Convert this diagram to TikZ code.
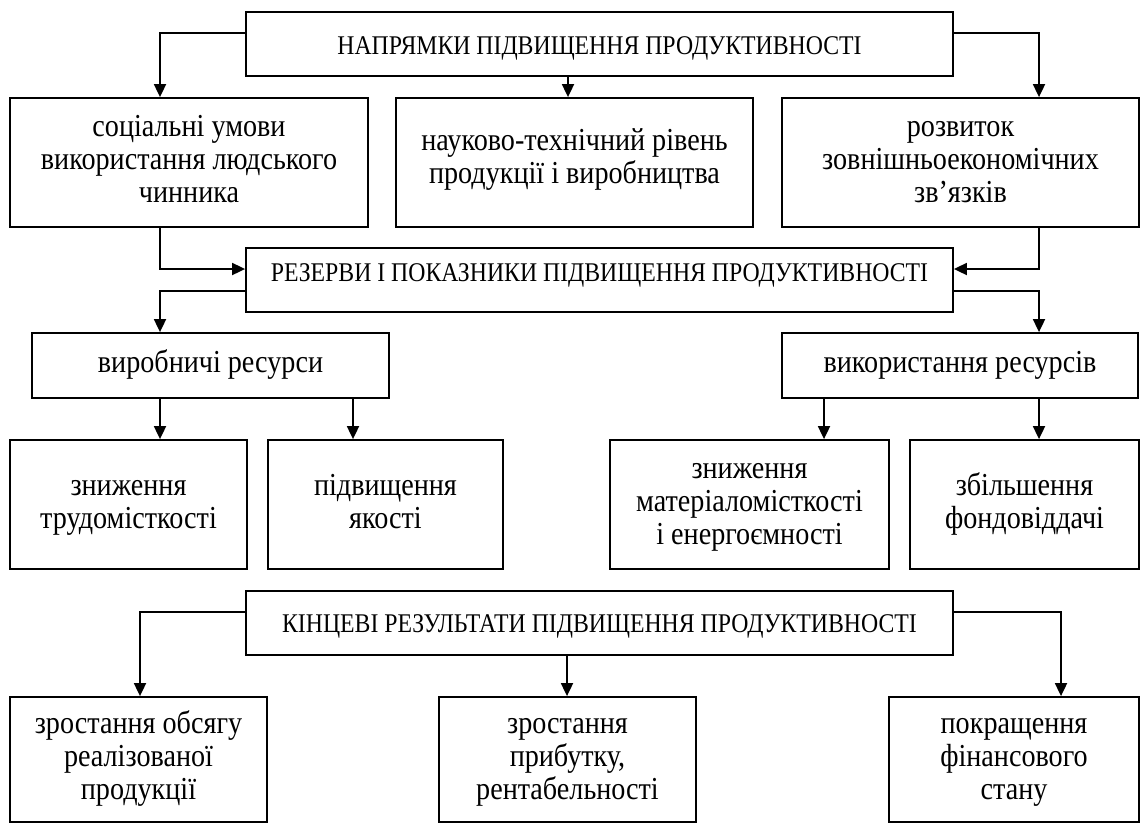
\documentclass[tikz,border=0pt]{standalone}
\usepackage{fontspec}
\setmainfont{Liberation Serif}[FakeStretch=0.88]
\usetikzlibrary{arrows.meta}
\begin{document}
\begin{tikzpicture}[x=1pt,y=-1pt,
  box/.style={draw, line width=1.8pt, inner sep=0pt, align=center,
    font=\fontsize{32}{33}\selectfont, text height=14pt, text depth=0pt},
  two/.style={text height=47pt},
  three/.style={text height=80pt},
  capbox/.style={draw, line width=1.8pt, inner sep=0pt,
    font=\fontsize{27}{30}\selectfont, text height=18pt, text depth=0pt},
  arr/.style={line width=1.8pt, line join=miter, -{Triangle[length=13pt,width=12pt]}}]
\useasboundingbox (0,0) rectangle (1142,823);
% named x positions of connectors
\coordinate (L) at (160,0);
\coordinate (R) at (1039,0);
\coordinate (M) at (568,0);
\coordinate (ML) at (353,0);
\coordinate (MR) at (824,0);
\coordinate (FL) at (140,0);
\coordinate (FM) at (567,0);
\coordinate (FR) at (1061,0);
% boxes
\node[capbox, minimum width=707pt, minimum height=64pt, text height=20pt] (top) at (599.5,44) {НАПРЯМКИ ПІДВИЩЕННЯ ПРОДУКТИВНОСТІ};
\node[box, three, minimum width=358pt, minimum height=129pt] (b1) at (189,162.5) {соціальні умови\\використання людського\\чинника};
\node[box, two, text depth=6pt, minimum width=357pt, minimum height=129pt] (b2) at (574.5,162.5) {науково-технічний рівень\\продукції і виробництва};
\node[box, three, minimum width=357pt, minimum height=129pt] (b3) at (960.5,162.5) {розвиток\\зовнішньоекономічних\\зв’язків};
\node[capbox, minimum width=707pt, minimum height=64pt, text depth=15pt] (resv) at (599.5,280) {РЕЗЕРВИ І ПОКАЗНИКИ ПІДВИЩЕННЯ ПРОДУКТИВНОСТІ};
\node[box, minimum width=357pt, minimum height=65pt] (vr) at (210.5,365.5) {виробничі ресурси};
\node[box, minimum width=356pt, minimum height=65pt] (vk) at (960,365.5) {використання ресурсів};
\node[box, two, minimum width=237pt, minimum height=129pt] (r1) at (128.5,504.5) {зниження\\трудомісткості};
\node[box, two, minimum width=235pt, minimum height=129pt] (r2) at (385.5,504.5) {підвищення\\якості};
\node[box, three, minimum width=279pt, minimum height=129pt] (r3) at (749.5,504.5) {зниження\\матеріаломісткості\\і енергоємності};
\node[box, two, minimum width=229pt, minimum height=129pt] (r4) at (1024.5,504.5) {збільшення\\фондовіддачі};
\node[capbox, minimum width=707pt, minimum height=64pt, text height=19pt] (kin) at (599.5,623) {КІНЦЕВІ РЕЗУЛЬТАТИ ПІДВИЩЕННЯ ПРОДУКТИВНОСТІ};
\node[box, three, minimum width=257pt, minimum height=125pt] (f1) at (138.5,759.5) {зростання обсягу\\реалізованої\\продукції};
\node[box, three, minimum width=257pt, minimum height=125pt] (f2) at (567.5,759.5) {зростання\\прибутку,\\рентабельності};
\node[box, three, minimum width=250pt, minimum height=125pt] (f3) at (1014,759.5) {покращення\\фінансового\\стану};
% connectors
\draw[arr] ([yshift=11pt]top.west) -| (L |- b1.north);
\draw[arr] (M |- top.south) -- (M |- b2.north);
\draw[arr] ([yshift=11pt]top.east) -| (R |- b3.north);
\draw[arr] (L |- b1.south) |- ([yshift=11pt]resv.west);
\draw[arr] (R |- b3.south) |- ([yshift=11pt]resv.east);
\draw[arr] ([yshift=-11pt]resv.west) -| (L |- vr.north);
\draw[arr] ([yshift=-11pt]resv.east) -| (R |- vk.north);
\draw[arr] (L |- vr.south) -- (L |- r1.north);
\draw[arr] (ML |- vr.south) -- (ML |- r2.north);
\draw[arr] (MR |- vk.south) -- (MR |- r3.north);
\draw[arr] (R |- vk.south) -- (R |- r4.north);
\draw[arr] ([yshift=11pt]kin.west) -| (FL |- f1.north);
\draw[arr] (FM |- kin.south) -- (FM |- f2.north);
\draw[arr] ([yshift=11pt]kin.east) -| (FR |- f3.north);
\end{tikzpicture}
\end{document}
